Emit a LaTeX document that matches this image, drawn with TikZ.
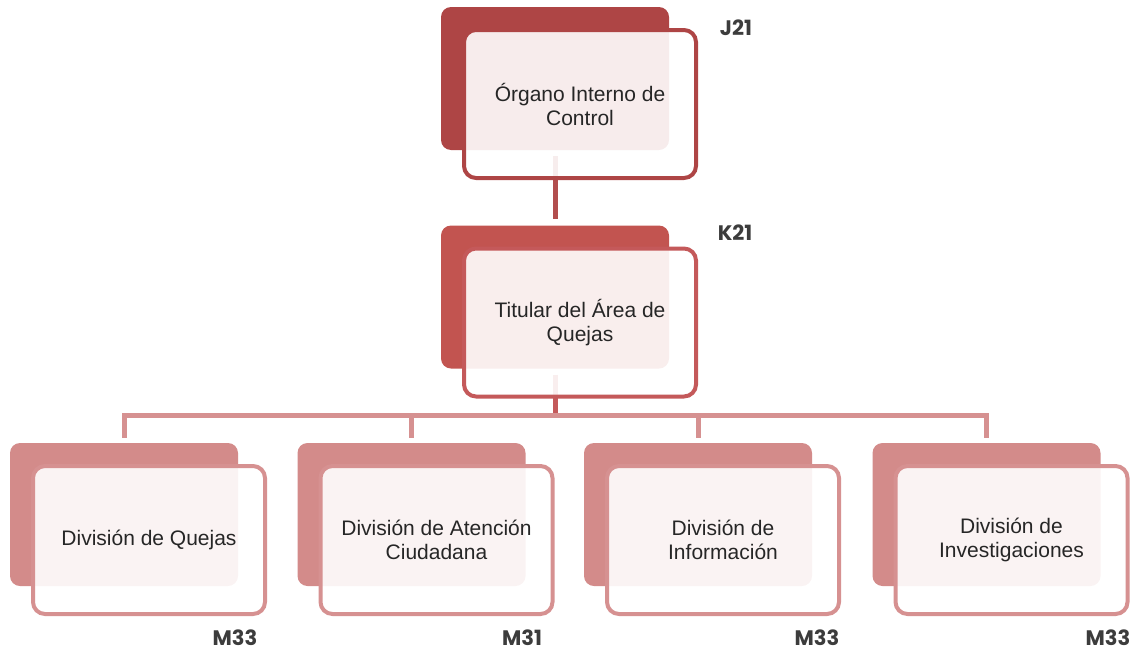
\documentclass[tikz,border=0pt]{standalone}
\usepackage{fontspec}
\setmainfont{Liberation Sans}
\newfontfamily\clavefont{Poppins}
\usetikzlibrary{positioning,backgrounds}

\definecolor{rojoA}{HTML}{AE4545}
\definecolor{rojoB}{HTML}{C25450}
\definecolor{rosaC}{HTML}{D38B8A}
\definecolor{lineaB}{HTML}{C4595A}
\definecolor{lineaC}{HTML}{D69191}
\definecolor{gris}{HTML}{3C3C3C}

\tikzset{
  fondo/.style={rectangle, rounded corners=10pt, minimum width=228pt, minimum height=143pt, inner sep=0pt},
  marco/.style={rectangle, rounded corners=12pt, line width=4pt, fill=white, fill opacity=0.9, text opacity=1,
    minimum width=232pt, minimum height=148pt, inner sep=0pt, align=center, text=black!85,
    font=\fontsize{21}{24}\selectfont},
  clave/.style={font=\clavefont\bfseries\fontsize{21}{22}\selectfont, text=gris},
  enlace/.style={line width=5pt}
}

% #1 nombre, #2 centro del fondo, #3 color fondo, #4 color borde, #5 texto
\newcommand{\puesto}[5]{
  \node[fondo, fill=#3] (#1) at (#2) {};
  \node[marco, draw=#4] (#1f) at ([shift={(25pt,-25.5pt)}]#1.center) {#5};
}

\begin{document}
\begin{tikzpicture}[x=1pt, y=-1pt]
\useasboundingbox (0,0) rectangle (1139,653);

\puesto{oic}{555,78.5}{rojoA}{rojoA}{Órgano Interno de\\Control}
\puesto{taq}{555,297}{rojoB}{lineaB}{Titular del Área de\\Quejas}
\puesto{dq}{124,514.5}{rosaC}{lineaC}{División de Quejas}
\puesto{dac}{411.5,514.5}{rosaC}{lineaC}{División de Atención\\Ciudadana}
\puesto{din}{698,514.5}{rosaC}{lineaC}{División de\\Información}
\puesto{dinv}{986.5,514.5}{rosaC}{lineaC}{División de\\Investigaciones}

\node[clave] (j21) at (736,28) {J21};
\node[clave] (k21) at (735,233) {K21};
\node[clave] (m33a) at (235,638) {M33};
\node[clave] (m31) at (522,638) {M31};
\node[clave] (m33b) at (817,638) {M33};
\node[clave] (m33c) at (1108,638) {M33};

\begin{scope}[on background layer]
\draw[enlace, rojoA!95!white, shorten <=6pt, shorten >=6pt] (oic.south) -- (taq.north);
\draw[enlace, lineaB, shorten <=6pt] (taq.south) -- ++(0,47) coordinate (bus);
\draw[enlace, lineaC, shorten <=5pt] (dq.north) |- (bus);
\draw[enlace, lineaC, shorten <=5pt] (dac.north) |- (bus);
\draw[enlace, lineaC, shorten <=5pt] (din.north) |- (bus);
\draw[enlace, lineaC, shorten <=5pt] (dinv.north) |- (bus);
\end{scope}
\end{tikzpicture}
\end{document}
